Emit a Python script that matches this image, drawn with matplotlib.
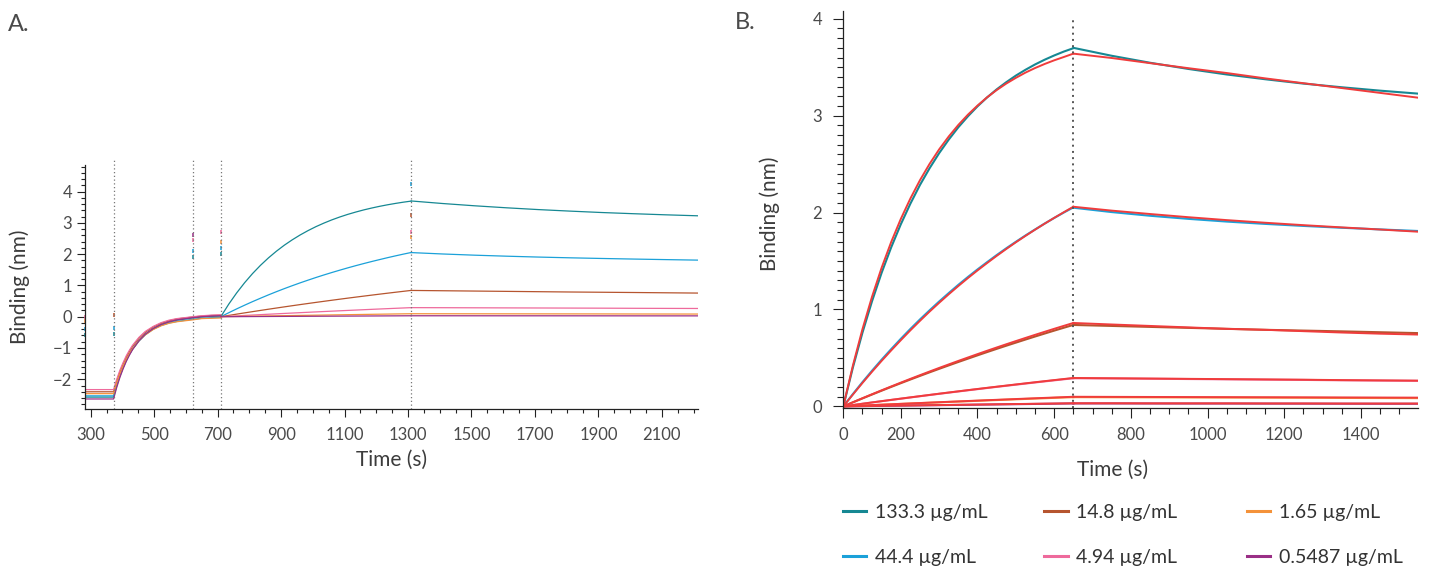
import matplotlib
matplotlib.use("Agg")
import matplotlib.pyplot as plt
from matplotlib.lines import Line2D
from matplotlib.ticker import MultipleLocator, FixedLocator

plt.rcParams['font.family'] = ['Lato', 'DejaVu Sans']

# concentrations and colours
conc_labels = ['133.3 µg/mL', '44.4 µg/mL', '14.8 µg/mL', '4.94 µg/mL', '1.65 µg/mL', '0.5487 µg/mL']
conc_colors = ['#168893', '#1ba1d9', '#b6552f', '#ee6a9c', '#f4923a', '#9a2f86']
fit_color = '#f03c3c'

# time grids (s, relative to start of each step)
assoc_t = list(range(0, 601, 25))
dissoc_t = [0, 100, 200, 300, 400, 500, 600, 700, 800, 910]

# measured association
assoc_133 = [0, 0.401, 0.761, 1.086, 1.379, 1.642, 1.879, 2.092, 2.285, 2.457, 2.613, 2.753, 2.880,
             2.993, 3.096, 3.188, 3.271, 3.345, 3.413, 3.473, 3.528, 3.577, 3.621, 3.661, 3.696]
assoc_44 = [0, 0.127, 0.250, 0.368, 0.482, 0.591, 0.697, 0.799, 0.897, 0.991, 1.082, 1.169, 1.254,
            1.335, 1.413, 1.488, 1.561, 1.631, 1.698, 1.763, 1.825, 1.886, 1.944, 2.000, 2.053]
assoc_14 = [0, 0.0414, 0.0821, 0.1223, 0.1619, 0.2009, 0.2393, 0.2771, 0.3144, 0.3511, 0.3873, 0.4228, 0.4579,
            0.4923, 0.5265, 0.5602, 0.5933, 0.6258, 0.6577, 0.6894, 0.7206, 0.7512, 0.7815, 0.8112, 0.8404]
assoc_4 = [0, 0.0135, 0.0269, 0.0402, 0.0533, 0.0663, 0.0791, 0.0919, 0.1045, 0.1170, 0.1294, 0.1416, 0.1537,
           0.1657, 0.1775, 0.1893, 0.2010, 0.2124, 0.2238, 0.2351, 0.2464, 0.2574, 0.2684, 0.2793, 0.2900]
assoc_1 = [0, 0.0042, 0.0084, 0.0126, 0.0167, 0.0209, 0.0251, 0.0291, 0.0332, 0.0372, 0.0413, 0.0453, 0.0493,
           0.0532, 0.0572, 0.0612, 0.0650, 0.0688, 0.0727, 0.0765, 0.0803, 0.0840, 0.0878, 0.0914, 0.0950]
assoc_05 = [0, 0.0013, 0.0025, 0.0038, 0.0050, 0.0063, 0.0075, 0.0088, 0.0100, 0.0113, 0.0125, 0.0138, 0.0150,
            0.0163, 0.0175, 0.0188, 0.0200, 0.0213, 0.0225, 0.0238, 0.0250, 0.0263, 0.0275, 0.0288, 0.0300]

# measured dissociation
dissoc_133 = [3.70, 3.618, 3.546, 3.482, 3.425, 3.376, 3.331, 3.293, 3.258, 3.224]
dissoc_44 = [2.05, 2.005, 1.967, 1.935, 1.907, 1.883, 1.862, 1.843, 1.826, 1.808]
dissoc_14 = [0.84, 0.83, 0.82, 0.81, 0.80, 0.79, 0.782, 0.774, 0.765, 0.755]
dissoc_4 = [0.29, 0.288, 0.285, 0.282, 0.279, 0.276, 0.273, 0.269, 0.266, 0.263]
dissoc_1 = [0.095, 0.094, 0.093, 0.092, 0.091, 0.090, 0.089, 0.087, 0.086, 0.085]
dissoc_05 = [0.03, 0.03, 0.0295, 0.029, 0.029, 0.0285, 0.028, 0.0275, 0.027, 0.027]

# global fit curves (panel B)
fit_assoc_133 = [0, 0.421, 0.797, 1.132, 1.431, 1.697, 1.934, 2.145, 2.334, 2.502, 2.652, 2.785, 2.904,
                 3.010, 3.104, 3.189, 3.264, 3.331, 3.390, 3.444, 3.491, 3.533, 3.571, 3.605, 3.640]
fit_assoc_44 = [0, 0.122, 0.242, 0.358, 0.470, 0.578, 0.683, 0.785, 0.883, 0.978, 1.069, 1.157, 1.242,
                1.324, 1.403, 1.479, 1.553, 1.624, 1.693, 1.759, 1.823, 1.885, 1.945, 2.003, 2.060]
fit_assoc_14 = [0, 0.0424, 0.0841, 0.1252, 0.1658, 0.2057, 0.2450, 0.2838, 0.3219, 0.3595, 0.3966, 0.4329, 0.4689,
                0.5041, 0.5391, 0.5736, 0.6075, 0.6408, 0.6735, 0.7059, 0.7379, 0.7692, 0.8003, 0.8307, 0.8606]
fit_assoc_4 = [0, 0.0136, 0.0272, 0.0406, 0.0538, 0.0670, 0.0799, 0.0928, 0.1055, 0.1182, 0.1307, 0.1430, 0.1552,
               0.1674, 0.1793, 0.1912, 0.2030, 0.2145, 0.2260, 0.2375, 0.2489, 0.2600, 0.2711, 0.2821, 0.2929]
fit_assoc_1 = [0, 0.0044, 0.0087, 0.0131, 0.0174, 0.0217, 0.0261, 0.0303, 0.0345, 0.0387, 0.0430, 0.0471, 0.0513,
               0.0553, 0.0595, 0.0636, 0.0676, 0.0716, 0.0756, 0.0796, 0.0835, 0.0874, 0.0913, 0.0951, 0.0990]
fit_assoc_05 = [0, 0.0013, 0.0027, 0.0040, 0.0053, 0.0067, 0.0080, 0.0093, 0.0107, 0.0120, 0.0133, 0.0147, 0.0160,
                0.0173, 0.0187, 0.0200, 0.0213, 0.0227, 0.0240, 0.0253, 0.0267, 0.0280, 0.0293, 0.0307, 0.0320]
fit_dissoc_133 = [3.64, 3.595, 3.542, 3.49, 3.44, 3.385, 3.335, 3.285, 3.235, 3.18]
fit_dissoc_44 = [2.06, 2.02, 1.985, 1.952, 1.922, 1.895, 1.87, 1.847, 1.825, 1.80]
fit_dissoc_14 = [0.8606, 0.845, 0.83, 0.815, 0.80, 0.79, 0.776, 0.762, 0.75, 0.74]
fit_dissoc_4 = [0.293, 0.29, 0.287, 0.284, 0.281, 0.278, 0.275, 0.271, 0.268, 0.265]
fit_dissoc_1 = [0.099, 0.098, 0.097, 0.096, 0.095, 0.094, 0.093, 0.092, 0.091, 0.09]
fit_dissoc_05 = [0.032, 0.032, 0.031, 0.031, 0.031, 0.030, 0.030, 0.029, 0.029, 0.029]

# panel A: baseline, loading and second baseline (absolute time)
pre_t = [282, 372, 382, 392, 402, 412, 422, 432, 452, 472, 497, 522, 547, 572, 622, 650, 680, 710]
pre_133 = [-2.57, -2.57, -2.21, -1.90, -1.63, -1.40, -1.20, -1.03, -0.76, -0.56, -0.38, -0.25, -0.17, -0.11, -0.04, -0.01, 0.01, 0.02]
pre_44 = [-2.53, -2.53, -2.18, -1.88, -1.62, -1.40, -1.20, -1.04, -0.78, -0.58, -0.40, -0.28, -0.20, -0.15, -0.08, -0.05, -0.03, -0.02]
pre_14 = [-2.40, -2.40, -2.06, -1.77, -1.51, -1.30, -1.11, -0.95, -0.69, -0.50, -0.33, -0.21, -0.13, -0.07, -0.01, 0.02, 0.04, 0.05]
pre_4 = [-2.33, -2.33, -2.00, -1.71, -1.47, -1.25, -1.07, -0.91, -0.66, -0.47, -0.31, -0.19, -0.11, -0.06, 0.00, 0.03, 0.05, 0.06]
pre_1 = [-2.46, -2.46, -2.12, -1.83, -1.58, -1.37, -1.18, -1.03, -0.77, -0.58, -0.41, -0.29, -0.21, -0.16, -0.10, -0.06, -0.05, -0.04]
pre_05 = [-2.63, -2.63, -2.26, -1.94, -1.67, -1.43, -1.23, -1.05, -0.77, -0.56, -0.38, -0.25, -0.16, -0.10, -0.03, 0.00, 0.02, 0.03]

# step boundaries in panel A and single-point spikes at the step changes
step_times = [372, 622, 710, 1310]
spike_t = [282, 282, 282, 282, 372, 372, 372, 622, 622, 622, 622, 710, 710, 710, 710, 1310, 1310, 1310, 1310]
spike_y = [0.0, -0.15, -0.4, -0.6, 0.05, -0.35, -0.55, 2.6, 2.45, 2.1, 1.9, 2.7, 2.4, 2.2, 2.0, 4.25, 3.25, 2.7, 2.55]
spike_c = [3, 4, 1, 0, 2, 1, 0, 5, 3, 1, 0, 3, 4, 1, 0, 1, 2, 3, 4]

assoc_all = [assoc_133, assoc_44, assoc_14, assoc_4, assoc_1, assoc_05]
dissoc_all = [dissoc_133, dissoc_44, dissoc_14, dissoc_4, dissoc_1, dissoc_05]
fit_assoc_all = [fit_assoc_133, fit_assoc_44, fit_assoc_14, fit_assoc_4, fit_assoc_1, fit_assoc_05]
fit_dissoc_all = [fit_dissoc_133, fit_dissoc_44, fit_dissoc_14, fit_dissoc_4, fit_dissoc_1, fit_dissoc_05]
pre_all = [pre_133, pre_44, pre_14, pre_4, pre_1, pre_05]

W, H = 1432, 568
fig = plt.figure(figsize=(W / 100, H / 100), dpi=100)

tick_color = '#4a4a4a'
label_color = '#3c3c3c'

# ---------- Panel A ----------
axA = fig.add_axes([85 / W, 1 - 409.3 / H, 612.7 / W, 244.3 / H])
a_assoc0, a_dissoc0 = step_times[2], step_times[3]
for i in range(6):
    axA.plot(pre_t, pre_all[i], color=conc_colors[i], lw=0.9)
    axA.plot([a_assoc0 + t for t in assoc_t], assoc_all[i], color=conc_colors[i], lw=0.9)
    axA.plot([a_dissoc0 + t for t in dissoc_t], dissoc_all[i], color=conc_colors[i], lw=0.9)
for t, y, c in zip(spike_t, spike_y, spike_c):
    axA.plot([t], [y], marker='|', ms=3.5, mew=1.1, color=conc_colors[c], clip_on=False)
for st in step_times:
    axA.axvline(st, ymin=0, ymax=1.02, color='#777777', lw=0.9, ls=(0, (1, 2)), clip_on=False)

axA.set_xlim(282, 2213)
axA.set_ylim(-2.96, 4.85)
axA.xaxis.set_major_locator(FixedLocator(range(300, 2101, 200)))
axA.xaxis.set_minor_locator(MultipleLocator(50))
axA.yaxis.set_major_locator(FixedLocator(range(-2, 5)))
axA.yaxis.set_minor_locator(MultipleLocator(0.2))
axA.tick_params(which='major', length=5.8, width=0.8, color='#222222', labelsize=12, labelcolor=tick_color)
axA.tick_params(which='minor', length=3.2, width=0.8, color='#222222')
axA.tick_params(axis='x', which='major', pad=7)
axA.tick_params(axis='y', which='major', pad=3.6)
axA.set_xlabel('Time (s)', fontsize=15, color=label_color)
axA.set_ylabel('Binding (nm)', fontsize=15, color=label_color)
axA.xaxis.set_label_coords(0.5, -0.165)
axA.yaxis.set_label_coords(-0.09, 0.5)

# ---------- Panel B ----------
b_off = 50
axB = fig.add_axes([843.3 / W, 1 - 408.3 / H, 574.7 / W, 397.3 / H])
for i in range(6):
    axB.plot([b_off + t for t in assoc_t], assoc_all[i], color=conc_colors[i], lw=1.5)
    axB.plot([b_off + 600 + t for t in dissoc_t], dissoc_all[i], color=conc_colors[i], lw=1.5)
for i in range(6):
    axB.plot([b_off + t for t in assoc_t], fit_assoc_all[i], color=fit_color, lw=1.4)
    axB.plot([b_off + 600 + t for t in dissoc_t], fit_dissoc_all[i], color=fit_color, lw=1.4)
axB.axvline(b_off + 600, ymin=0, ymax=0.987, color='#555555', lw=1.4, ls=(0, (1, 2.2)))

axB.set_xlim(b_off, 1549)
axB.set_ylim(-0.02, 4.08)
b_ticks = [b_off] + list(range(200, 1401, 200))
axB.xaxis.set_major_locator(FixedLocator(b_ticks))
axB.set_xticklabels(['0'] + [str(v) for v in range(200, 1401, 200)])
axB.xaxis.set_minor_locator(FixedLocator(range(100, 1550, 50)))
axB.yaxis.set_major_locator(FixedLocator(range(0, 5)))
axB.yaxis.set_minor_locator(MultipleLocator(0.1))
axB.tick_params(which='major', length=7.2, width=0.8, color='#222222', labelsize=12, labelcolor=tick_color)
axB.tick_params(which='minor', length=4, width=0.8, color='#222222')
axB.tick_params(axis='x', which='major', pad=6)
axB.tick_params(axis='y', which='major', pad=8)
axB.set_xlabel('Time (s)', fontsize=15, color=label_color)
axB.set_ylabel('Binding (nm)', fontsize=15, color=label_color)
axB.xaxis.set_label_coords(0.469, -0.13)
axB.yaxis.set_label_coords(-0.11, 0.49)

for ax in (axA, axB):
    for s in ('top', 'right'):
        ax.spines[s].set_visible(False)
    for s in ('left', 'bottom'):
        ax.spines[s].set_color('#222222')
        ax.spines[s].set_linewidth(0.9)

# panel letters
fig.text(8 / W, 1 - 31 / H, 'A.', fontsize=17, color='#4a4a4a', va='baseline')
fig.text(735 / W, 1 - 29 / H, 'B.', fontsize=17, color='#4a4a4a', va='baseline')

# legend below panel B, column-wise order
col_x = [842.7, 1044, 1246.7]
row_y = [510.7, 556.3]
for i, lab in enumerate(conc_labels):
    cx = col_x[i // 2]
    ry = 1 - row_y[i % 2] / H
    fig.add_artist(Line2D([cx / W, (cx + 23.5) / W], [ry, ry], color=conc_colors[i], lw=2.2,
                          transform=fig.transFigure))
    fig.text((cx + 32.5) / W, ry, lab, fontsize=14, color='#333333', va='center_baseline')

fig.savefig('out.png', dpi=100)
